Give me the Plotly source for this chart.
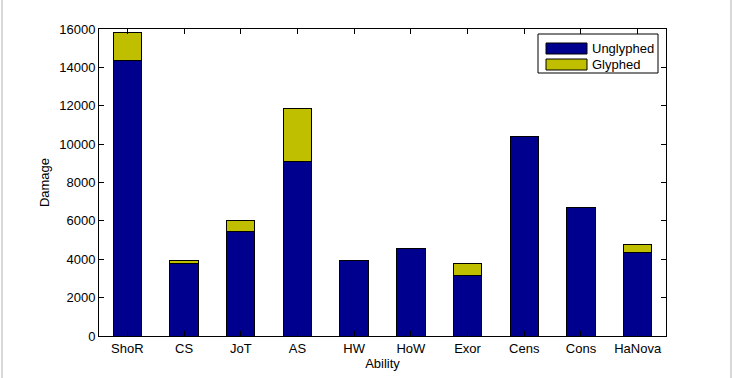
import plotly.graph_objects as go

abilities = ["ShoR", "CS", "JoT", "AS", "HW", "HoW", "Exor", "Cens", "Cons", "HaNova"]
unglyphed = [14350, 3780, 5450, 9100, 3950, 4560, 3150, 10400, 6700, 4360]
glyphed = [1450, 150, 560, 2750, 0, 0, 630, 0, 0, 400]
y_ticks = [0, 2000, 4000, 6000, 8000, 10000, 12000, 14000, 16000]
y_ticktext = [str(v) for v in y_ticks]

BLUE = "#00008F"
YELLOW = "#BFBF00"
FONT = "Liberation Sans Narrow, Liberation Sans, Arial, sans-serif"

W, H = 732, 378
L, R, T, B = 99, 66, 29, 42
pw, ph = W - L - R, H - T - B


def px(x):
    return (x - L) / pw


def py(y):
    return 1 - (y - T) / ph


fig = go.Figure()
fig.add_trace(go.Bar(x=abilities, y=unglyphed, name="Unglyphed", marker=dict(color=BLUE, line=dict(color="black", width=1)), width=0.5, showlegend=False))
fig.add_trace(go.Bar(x=abilities, y=glyphed, name="Glyphed", marker=dict(color=YELLOW, line=dict(color="black", width=1)), width=0.5, showlegend=False))

shapes = []
annotations = []
# legend box
shapes.append(dict(type="rect", xref="paper", yref="paper", x0=px(538), x1=px(658), y0=py(73), y1=py(34),
                   line=dict(color="black", width=1), fillcolor="white", layer="above"))
for (name, color, y0, y1) in [("Unglyphed", BLUE, 43, 54), ("Glyphed", YELLOW, 59, 70)]:
    shapes.append(dict(type="rect", xref="paper", yref="paper", x0=px(546), x1=px(587), y0=py(y1), y1=py(y0),
                       line=dict(color="black", width=1), fillcolor=color, layer="above"))
    annotations.append(dict(text=name, xref="paper", yref="paper", x=px(590), y=py((y0 + y1) / 2),
                            xanchor="left", yanchor="middle", showarrow=False,
                            font=dict(family=FONT, size=13, color="black")))
# window border lines
for xb in [2, 731]:
    shapes.append(dict(type="line", xref="paper", yref="paper", x0=px(xb), x1=px(xb), y0=py(0), y1=py(378),
                       line=dict(color="#d8d8d8", width=2)))

fig.update_layout(
    barmode="stack",
    width=W, height=H,
    margin=dict(l=L, r=R, t=T, b=B),
    paper_bgcolor="white", plot_bgcolor="white",
    font=dict(family=FONT, size=13, color="black"),
    shapes=shapes, annotations=annotations,
    xaxis=dict(range=[-0.5, 9.5], showline=True, linecolor="black", linewidth=1, mirror="ticks",
               ticks="inside", ticklen=5, tickcolor="black", showgrid=False,
               title=dict(text="Ability", standoff=2, font=dict(family=FONT, size=13))),
    yaxis=dict(range=[0, 16000], tickvals=y_ticks, ticktext=y_ticktext, showline=True, linecolor="black",
               linewidth=1, mirror="ticks", ticks="inside", ticklen=5, tickcolor="black", showgrid=False,
               zeroline=False, title=dict(text="Damage", standoff=6, font=dict(family=FONT, size=13))),
)

fig.write_html("out.html", config={"displayModeBar": False}, post_script="document.body.style.margin='0';")
